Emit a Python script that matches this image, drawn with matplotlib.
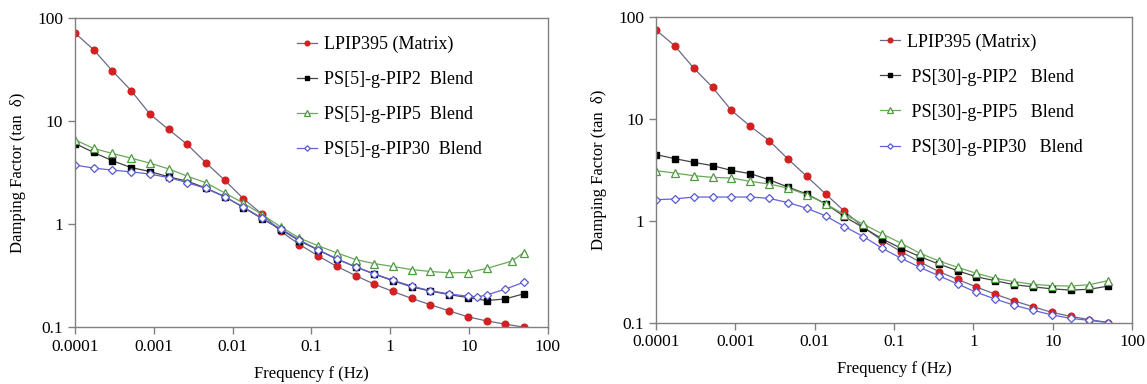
import matplotlib
matplotlib.use("Agg")
import matplotlib.pyplot as plt

plt.rcParams['font.family'] = ['Liberation Serif', 'DejaVu Serif']

# frequency points (Hz)
freq = [0.0001, 0.0001728, 0.0002985, 0.0005158, 0.0008913, 0.00154, 0.002661,
        0.004597, 0.007943, 0.01372, 0.02371, 0.04097, 0.07079, 0.1223, 0.2113,
        0.3652, 0.631, 1.09, 1.884, 3.255, 5.623, 9.716, 16.79, 29.01, 50.12]

# left panel: PS[5] blends
matrix_l = [71.5, 49.2, 30.6, 19.8, 11.7, 8.3, 5.93, 3.94, 2.67, 1.77, 1.25, 0.85,
            0.634, 0.492, 0.388, 0.317, 0.261, 0.222, 0.19, 0.165, 0.144, 0.126,
            0.115, 0.107, 0.10]
pip2_l = [6.06, 4.96, 4.12, 3.54, 3.24, 2.88, 2.61, 2.24, 1.85, 1.45, 1.13, 0.886,
          0.689, 0.56, 0.457, 0.385, 0.327, 0.282, 0.246, 0.224, 0.207, 0.194,
          0.181, 0.188, 0.211]
pip5_l = [6.58, 5.42, 4.85, 4.37, 3.91, 3.44, 2.92, 2.52, 2.01, 1.60, 1.24, 0.94,
          0.731, 0.616, 0.526, 0.453, 0.414, 0.388, 0.362, 0.347, 0.337, 0.339,
          0.371, 0.437, 0.53]
freq_pip5_l = freq[:23] + [35.0, 50.12]
pip30_l = [3.74, 3.5, 3.34, 3.22, 3.06, 2.83, 2.53, 2.22, 1.84, 1.47, 1.14, 0.9,
           0.70, 0.565, 0.46, 0.385, 0.33, 0.285, 0.25, 0.226, 0.21, 0.2, 0.197,
           0.205, 0.234, 0.273]
freq_pip30_l = freq[:22] + [12.7] + freq[22:]

# right panel: PS[30] blends
matrix_r = [73.8, 51.4, 31.2, 20.2, 12.0, 8.4, 6.08, 4.01, 2.71, 1.82, 1.23, 0.86,
            0.636, 0.496, 0.393, 0.316, 0.265, 0.223, 0.19, 0.163, 0.143, 0.126,
            0.115, 0.107, 0.10]
pip2_r = [4.43, 4.04, 3.72, 3.45, 3.1, 2.88, 2.51, 2.13, 1.82, 1.46, 1.09, 0.853,
          0.661, 0.535, 0.443, 0.375, 0.322, 0.281, 0.257, 0.235, 0.224, 0.214,
          0.208, 0.212, 0.228]
pip5_r = [3.08, 2.92, 2.75, 2.65, 2.61, 2.42, 2.28, 2.08, 1.79, 1.46, 1.14, 0.922,
          0.74, 0.6, 0.478, 0.402, 0.348, 0.304, 0.271, 0.252, 0.237, 0.23, 0.228,
          0.235, 0.258]
pip30_r = [1.6, 1.63, 1.7, 1.7, 1.7, 1.7, 1.65, 1.5, 1.32, 1.11, 0.873, 0.696,
           0.535, 0.427, 0.348, 0.288, 0.239, 0.198, 0.17, 0.148, 0.132, 0.119,
           0.11, 0.105, 0.1]

labels_l = ['LPIP395 (Matrix)', 'PS[5]-g-PIP2  Blend', 'PS[5]-g-PIP5  Blend',
            'PS[5]-g-PIP30  Blend']
labels_r = ['LPIP395 (Matrix)', ' PS[30]-g-PIP2   Blend', ' PS[30]-g-PIP5   Blend',
            ' PS[30]-g-PIP30   Blend']

xticks = [0.0001, 0.001, 0.01, 0.1, 1, 10, 100]
xticklabels = ['0.0001', '0.001', '0.01', '0.1', '1', '10', '100']
yticks = [0.1, 1, 10, 100]
yticklabels = ['0.1', '1', '10', '100']

styles = [
    dict(color='#6a6a88', marker='o', mfc='#d42020', mec='#d42020', ms=4.8),
    dict(color='#444444', marker='s', mfc='black', mec='black', ms=4.6),
    dict(color='#6aa85a', marker='^', mfc='white', mec='#4e9a40', ms=5.5, mew=0.9),
    dict(color='#6262d6', marker='D', mfc='white', mec='#5a5ad0', ms=4.0, mew=0.9),
]

fig = plt.figure(figsize=(11.47, 3.84), dpi=100)
ax1 = fig.add_axes([0.0654, 0.148, 0.412, 0.805])
ax2 = fig.add_axes([0.572, 0.160, 0.415, 0.797])

panels = [
    (ax1, [(freq, matrix_l), (freq, pip2_l), (freq_pip5_l, pip5_l), (freq_pip30_l, pip30_l)],
     labels_l, (0.47, 0.943)),
    (ax2, [(freq, matrix_r), (freq, pip2_r), (freq, pip5_r), (freq, pip30_r)],
     labels_r, (0.47, 0.945)),
]

for ax, series, labels, anchor in panels:
    for (x, y), lab, st in zip(series, labels, styles):
        ax.plot(x, y, lw=0.9, label=lab, **st)
    ax.set_xscale('log')
    ax.set_yscale('log')
    ax.set_xlim(0.0001, 100)
    ax.set_ylim(0.1, 100)
    ax.set_xticks(xticks)
    ax.set_xticklabels(xticklabels)
    ax.set_yticks(yticks)
    ax.set_yticklabels(yticklabels)
    ax.minorticks_off()
    ax.tick_params(labelsize=12.5, color='#808080', length=5, width=1, direction='out')
    for sp in ax.spines.values():
        sp.set_color('#808080')
        sp.set_linewidth(1.0)
    ax.set_xlabel('Frequency f (Hz)', fontsize=12, labelpad=8)
    ax.set_ylabel('Damping Factor (tan  \u03b4)', fontsize=12, labelpad=8)
    ax.legend(loc='upper left', bbox_to_anchor=anchor, frameon=False, fontsize=13,
              handlelength=1.1, handletextpad=0.4, labelspacing=1.0,
              markerscale=0.7, borderaxespad=0, borderpad=0)

fig.savefig('out.png', dpi=100)
